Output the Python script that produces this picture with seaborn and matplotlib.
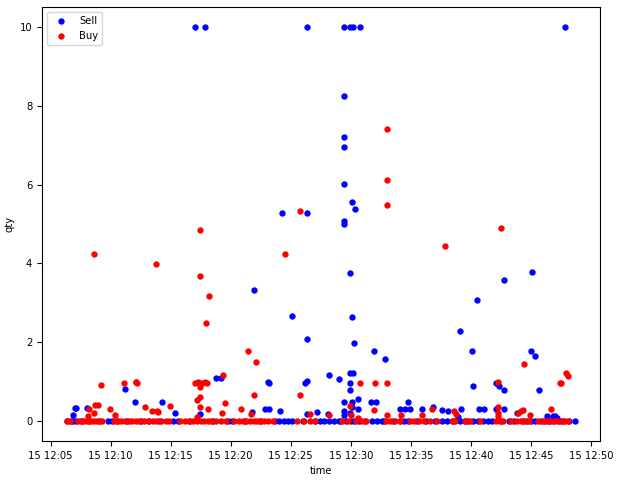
import pandas as pd
import numpy as np
import matplotlib
matplotlib.use("Agg")
import matplotlib.pyplot as plt
import seaborn as sns

base = pd.Timestamp("2021-03-15 12:00:00")

# minutes after 12:00 and qty
sell_min = [17.0, 17.83, 26.33, 29.44, 29.94, 30.17, 30.78, 47.86,
            29.44, 29.44, 29.44, 29.44, 30.11, 30.36, 29.44, 29.44,
            24.28, 26.36, 21.94, 25.11, 26.36,
            29.94, 30.11, 30.28, 31.94, 32.86, 28.19, 29.03, 29.94, 30.17,
            45.11, 42.78, 40.53, 39.11, 40.11, 45.03, 45.36,
            18.78, 19.19, 23.19, 23.1, 26.36, 26.2,
            11.19, 12.03, 14.28, 15.33, 7.0, 7.14, 6.86, 8.03,
            22.86, 23.19, 24.11, 21.81, 27.17, 17.44, 26.39, 28.14,
            29.94, 29.97, 29.44, 30.11, 30.6, 31.72, 32.06, 34.78, 30.06, 30.6,
            34.08, 34.5, 34.92, 35.94, 36.86, 37.56, 38.11,
            29.4, 29.44, 29.9, 38.9,
            40.19, 42.11, 42.36, 42.75, 45.67,
            39.19, 40.64, 41.06, 42.11, 42.72, 43.86,
            46.3, 46.81, 47.03, 47.14]
sell_qty = [10, 10, 10, 10, 10, 10, 10, 10,
            8.25, 7.21, 6.95, 6.02, 5.56, 5.38, 5.07, 5.0,
            5.28, 5.28, 3.33, 2.68, 2.09,
            3.76, 2.65, 1.99, 1.79, 1.59, 1.18, 1.08, 1.23, 1.23,
            3.79, 3.59, 3.08, 2.30, 1.79, 1.79, 1.66,
            1.10, 1.10, 0.98, 1.0, 1.02, 0.98,
            0.83, 0.50, 0.50, 0.20, 0.33, 0.33, 0.15, 0.33,
            0.32, 0.32, 0.26, 0.24, 0.24, 0.18, 0.18, 0.18,
            0.98, 0.79, 0.5, 0.5, 0.57, 0.5, 0.5, 0.5, 0.37, 0.32,
            0.30, 0.30, 0.30, 0.30, 0.35, 0.29, 0.25,
            0.26, 0.16, 0.22, 0.12,
            0.90, 0.98, 0.89, 0.78, 0.78,
            0.30, 0.32, 0.32, 0.32, 0.32, 0.22,
            0.13, 0.13, 0.13, 0.08]
sell_zero_min = [6.4, 6.7, 6.9, 7.1, 7.5, 8.2, 9.0, 9.8, 10.1, 10.5, 11.4, 12.5,
                 13.2, 14.0, 15.2, 15.6, 16.5, 18.5, 19.8, 20.1, 21.2, 22.4, 23.7,
                 24.0, 24.4, 24.8, 25.1, 26.0, 27.0, 27.4, 27.8, 28.2, 28.6, 29.0,
                 29.2, 29.6, 30.0, 30.3, 30.7, 31.2, 31.8, 32.2, 32.6, 32.8, 33.5,
                 34.1, 34.4, 34.8, 35.5, 36.3, 37.0, 37.6, 38.0, 38.5, 39.1, 39.5,
                 39.8, 40.2, 40.6, 41.0, 41.4, 41.8, 42.5, 43.2, 43.6, 44.3, 44.7,
                 45.0, 45.3, 45.8, 46.2, 46.5, 46.8, 47.3, 47.7, 48.2, 48.64]

buy_min = [33.03, 33.03, 33.03, 42.53, 37.86, 44.44, 47.94, 48.11,
           30.78, 32.03, 33.03, 42.28, 47.53, 47.45,
           25.78, 17.44, 8.61, 24.53, 13.78, 17.44, 18.19, 17.94, 21.44, 22.11, 19.36,
           9.19, 11.11, 12.14, 12.2, 12.08, 17.0, 17.3, 17.4, 17.6, 17.83, 18.0, 17.44,
           12.89, 13.44, 13.94, 13.9, 14.97, 8.22, 8.72, 8.94, 8.64, 9.94, 10.39, 8.14,
           25.78, 21.94, 17.44, 17.17, 19.53, 17.44, 18.14, 19.31, 20.86, 21.69, 26.64, 17.2,
           29.94, 31.94, 28.19, 30.0, 30.6, 33.03, 34.17, 35.97, 36.78, 38.58, 38.75,
           43.94, 44.14, 44.36, 44.94, 46.69, 42.25, 42.25, 42.25]
buy_qty = [7.41, 6.12, 5.49, 4.90, 4.45, 1.46, 1.23, 1.16,
           0.98, 0.98, 0.98, 1.0, 0.98, 0.98,
           5.33, 4.85, 4.25, 4.25, 3.99, 3.69, 3.18, 2.50, 1.79, 1.49, 1.18,
           0.91, 0.96, 0.99, 0.97, 1.0, 0.98, 1.0, 0.97, 0.98, 1.0, 0.98, 0.88,
           0.37, 0.27, 0.24, 0.27, 0.39, 0.30, 0.41, 0.41, 0.20, 0.30, 0.15, 0.13,
           0.66, 0.66, 0.62, 0.55, 0.46, 0.36, 0.30, 0.22, 0.30, 0.18, 0.18, 0.12,
           0.39, 0.28, 0.16, 0.15, 0.09, 0.15, 0.15, 0.15, 0.32, 0.25, 0.18,
           0.22, 0.25, 0.29, 0.17, 0.32, 0.22, 0.13, 0.35]
buy_zero_min = [6.4, 6.6, 7.3, 7.6, 7.8, 8.0, 8.3, 8.5, 8.8, 9.0, 9.3, 10.3, 10.6,
                10.9, 11.2, 11.5, 11.8, 12.1, 12.4, 12.8, 13.1, 13.5, 13.8, 14.2,
                14.6, 14.9, 15.8, 16.2, 16.6, 16.9, 17.2, 17.5, 17.8, 18.1, 18.4,
                18.8, 19.2, 19.6, 20.3, 20.7, 21.0, 21.3, 21.6, 21.9, 22.2, 22.5,
                22.8, 23.1, 23.5, 25.5, 26.1, 26.6, 27.0, 29.3, 29.8, 30.4, 30.9,
                31.3, 32.9, 33.3, 33.7, 34.1, 34.9, 35.3, 35.7, 36.1, 36.6, 37.2,
                38.4, 38.7, 39.5, 39.9, 40.8, 42.1, 42.4, 42.7, 43.3, 43.8, 44.2,
                44.5, 44.8, 45.6, 46.0, 46.3, 46.6, 46.9, 47.2, 47.5, 47.8, 48.1]

sell = pd.DataFrame({
    "time": base + pd.to_timedelta(sell_min + sell_zero_min, unit="m"),
    "qty": sell_qty + [0.0] * len(sell_zero_min),
})
buy = pd.DataFrame({
    "time": base + pd.to_timedelta(buy_min + buy_zero_min, unit="m"),
    "qty": buy_qty + [0.0] * len(buy_zero_min),
})

plt.rcParams["font.size"] = 7.2
fig = plt.figure(figsize=(6.18, 4.8), dpi=100)
ax = fig.add_axes([42 / 618, 39 / 480, 558 / 618, 434 / 480])

sns.scatterplot(data=sell, x="time", y="qty", color="blue", s=21, linewidth=0, label="Sell", ax=ax)
sns.scatterplot(data=buy, x="time", y="qty", color="red", s=21, linewidth=0, label="Buy", ax=ax)

ax.set_xlabel("time")
ax.set_ylabel("qty")
ax.legend(loc="upper left")

fig.savefig("out.png", dpi=100)
